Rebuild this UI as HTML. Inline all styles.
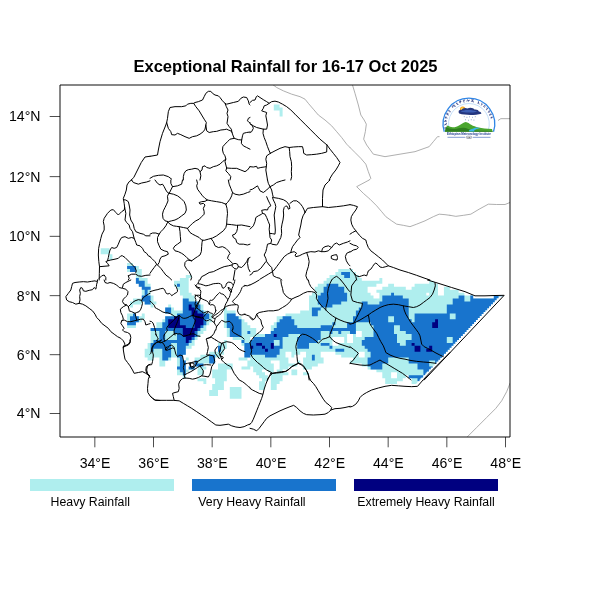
<!DOCTYPE html>
<html lang="en">
<head>
<meta charset="utf-8">
<title>Exceptional Rainfall for 16-17 Oct 2025</title>
<style>
html,body{margin:0;padding:0;background:#fff;}
body{width:600px;height:600px;overflow:hidden;font-family:"Liberation Sans",sans-serif;}
svg{display:block;}
text{font-family:"Liberation Sans",sans-serif;fill:#000;}
.ttl{font-weight:bold;font-size:16.55px;}
.tk{font-size:14.1px;}
.lg{font-size:12.3px;}
.bd{fill:none;stroke:#000;stroke-width:1;stroke-linejoin:round;stroke-linecap:round;}
.gr{fill:none;stroke:#9a9a9a;stroke-width:0.8;stroke-linejoin:round;stroke-linecap:round;}
.ax{fill:none;stroke:#000;stroke-width:0.95;stroke-linejoin:round;}
.tkl{fill:none;stroke:#000;stroke-width:0.7;}
</style>
</head>
<body>
<svg width="600" height="600" viewBox="0 0 600 600">
<rect width="600" height="600" fill="#fff"/>
<defs><clipPath id="fr"><rect x="60" y="85" width="450" height="352"/></clipPath>
<clipPath id="st"><path d="M0 0H600V296.3H498.5V298.3H496.6V300.3H494.7V302.2H492.9V304.2H491.0V306.2H489.1V308.2H487.2V310.2H485.3V312.1H483.5V314.1H481.6V316.1H479.7V318.1H477.8V320.1H475.9V322.0H474.1V324.0H472.2V326.0H470.3V328.0H468.4V330.0H466.5V331.9H464.7V333.9H462.8V335.9H460.9V337.9H459.0V339.9H457.1V341.8H455.3V343.8H453.4V345.8H451.5V347.8H449.6V349.8H447.7V351.7H445.9V353.7H444.0V355.7H442.1V357.7H440.2V359.7H438.3V361.6H436.5V363.6H434.6V365.6H432.7V367.6H430.8V369.6H428.9V371.5H427.1V373.5H425.2V375.5H423.3V377.5H421.4V379.5H419.5V381.4H417.7V383.4H415.8V385.4H413.9V387.4H412.0V600H0Z"/></clipPath></defs>
<g clip-path="url(#fr)">
<g clip-path="url(#st)">
<path fill="#afeeee" fill-rule="evenodd" d="M100.7 254.2H109.5V248.2H100.7ZM112.4 254.2H109.5V260.1H112.4ZM135.9 272.0V283.8H138.8V286.8H141.8V298.6H133.0V301.6H130.0V307.5H133.0V304.5H141.8V301.6H144.7V304.5H150.6V307.5H153.5V304.5H156.4V301.6H153.5V295.6H150.6V283.8H147.6V277.9H141.8V269.0H138.8V266.0H133.0V263.1H127.1V272.0ZM188.7 277.9H191.6V274.9H185.8V277.9H179.9V280.8H174.0V286.8H177.0V289.7H179.9V295.6H182.8V310.4H174.0V307.5H171.1V304.5H168.2V307.5H165.2V313.4H171.1V316.3H165.2V319.3H162.3V322.2H156.4V328.1H150.6V342.9H147.6V348.8H144.7V357.6H147.6V360.6H153.5V357.6H159.4V366.5H165.2V360.6H171.1V357.6H177.0V375.3H182.8V378.2H185.8V372.3H188.7V369.4H185.8V360.6H182.8V354.7H185.8V348.8H191.6V345.8H194.6V339.9H197.5V337.0H200.4V334.0H203.4V331.1H206.3V325.2H209.2V322.2H212.2V313.4H206.3V310.4H203.4V304.5H200.4V301.6H194.6V295.6H191.6V292.7H188.7ZM127.1 313.4V328.1H135.9V322.2H141.8V319.3H144.7V313.4H141.8V316.3H135.9V313.4ZM223.9 307.5V328.1H226.8V337.0H232.7V339.9H241.5V345.8H244.4V357.6H238.6V360.6H247.4V366.5H241.5V369.4H250.3V366.5H253.2V372.3H256.2V375.3H259.1V378.2H262.0V381.2H259.1V390.0H265.0V381.2H267.9V375.3H265.0V372.3H262.0V369.4H267.9V372.3H270.8V390.0H276.7V384.1H279.6V381.2H282.6V375.3H288.4V372.3H282.6V369.4H288.4V366.5H297.2V363.5H288.4V357.6H285.5V351.7H291.4V357.6H294.3V354.7H300.2V351.7H306.0V357.6H303.1V369.4H311.9V366.5H317.8V363.5H323.6V357.6H320.7V351.7H335.4V354.7H341.2V357.6H353.0V360.6H350.0V363.5H361.8V366.5H367.6V369.4H376.4V372.3H382.3V378.2H385.2V384.1H397.0V381.2H402.8V378.2H405.8V375.3H408.7V378.2H411.6V384.1H417.5V381.2H420.4V378.2H423.4V375.3H426.3V372.3H429.2V369.4H436.6V366.5H438.0V365.0H439.5V363.5H441.0V362.0H442.4V360.6H443.9V359.1H445.4V357.6H446.8V356.2H448.3V354.7H449.8V353.2H451.2V351.7H452.7V350.3H454.2V348.8H455.6V347.3H457.1V345.8H458.6V344.4H460.0V342.9H461.5V341.4H463.0V339.9H464.4V338.5H465.9V337.0H467.4V335.5H468.8V334.0H470.3V332.6H471.8V329.6H473.2V328.1H474.7V326.7H476.2V325.2H477.6V323.7H479.1V322.2H480.6V320.8H482.0V319.3H483.5V317.8H485.0V316.3H486.4V314.9H487.9V313.4H489.4V311.9H490.8V310.4H492.3V309.0H493.8V307.5H495.2V306.0H496.7V304.5H498.2V303.0H499.6V301.6H501.1V300.1H502.6V295.6H493.8V298.6H473.2V295.6H464.4V292.7H458.6V289.7H449.8V286.8H443.9V295.6H438.0V283.8H435.1V282.3H433.6V280.8H429.2V283.8H414.6V286.8H411.6V289.7H405.8V286.8H394.0V283.8H388.2V286.8H382.3V289.7H376.4V292.7H379.4V298.6H373.5V295.6H370.6V292.7H367.6V286.8H376.4V283.8H382.3V277.9H379.4V280.8H361.8V277.9H358.8V274.9H355.9V272.0H353.0V269.0H338.3V272.0H335.4V274.9H329.5V277.9H326.6V280.8H323.6V283.8H317.8V286.8H314.8V292.7H311.9V295.6H309.0V310.4H300.2V313.4H285.5V316.3H276.7V322.2H273.8V325.2H270.8V334.0H256.2V328.1H250.3V325.2H247.4V322.2H244.4V319.3H241.5V316.3H235.6V310.4H226.8V307.5ZM247.4 357.6H250.3V360.6H247.4ZM332.4 337.0H344.2V342.9H338.3V345.8H332.4ZM347.1 334.0H353.0V342.9H347.1ZM355.9 331.1H361.8V337.0H355.9ZM253.2 339.9H250.3V337.0H253.2ZM279.6 360.6V369.4H276.7V372.3H273.8V363.5H270.8V360.6ZM358.8 351.7H364.7V357.6H358.8ZM397.0 372.3V378.2H391.1V372.3ZM429.2 292.7V295.6H426.3V292.7ZM218.0 351.7H209.2V354.7H200.4V357.6H194.6V366.5H197.5V375.3H203.4V369.4H206.3V366.5H203.4V363.5H215.1V357.6H221.0V354.7H223.9V348.8H226.8V339.9H223.9V342.9H218.0ZM188.7 357.6H185.8V360.6H188.7ZM212.2 378.2H215.1V384.1H212.2V390.0H209.2V395.9H218.0V390.0H223.9V381.2H226.8V369.4H232.7V363.5H218.0V369.4H212.2ZM194.6 366.5H188.7V369.4H194.6ZM206.3 378.2H197.5V381.2H203.4V384.1H206.3ZM241.5 387.1H229.8V398.8H241.5ZM282.6 107.4H279.6V104.4H273.8V110.5H279.6V116.5H282.6ZM300.2 363.5V360.6H297.2V363.5ZM297.2 375.3V369.4H291.4V375.3ZM309.0 372.3H303.1V375.3H309.0Z"/>
<path fill="#1874cd" fill-rule="evenodd" d="M135.9 266.0H127.1V269.0H130.0V272.0H135.9ZM141.8 286.8V289.7H144.7V295.6H141.8V301.6H144.7V304.5H150.6V295.6H147.6V289.7H150.6V286.8H144.7V280.8H138.8V277.9H135.9V283.8H138.8V286.8ZM179.9 283.8H177.0V286.8H179.9ZM171.1 313.4V307.5H165.2V313.4ZM135.9 325.2V322.2H138.8V316.3H135.9V313.4H133.0V316.3H130.0V322.2H127.1V325.2ZM162.3 328.1H150.6V331.1H159.4V339.9H153.5V342.9H150.6V351.7H153.5V348.8H162.3V360.6H168.2V357.6H171.1V342.9H177.0V357.6H179.9V366.5H177.0V369.4H179.9V372.3H182.8V375.3H185.8V360.6H182.8V354.7H185.8V345.8H188.7V342.9H191.6V339.9H194.6V337.0H197.5V331.1H200.4V328.1H203.4V325.2H206.3V319.3H209.2V313.4H203.4V310.4H200.4V304.5H197.5V301.6H188.7V298.6H182.8V313.4H177.0V316.3H165.2V322.2H162.3ZM165.2 339.9V331.1H174.0V334.0H177.0V339.9ZM226.8 328.1H229.8V337.0H241.5V319.3H238.6V316.3H235.6V313.4H226.8ZM282.6 316.3V319.3H279.6V322.2H276.7V328.1H273.8V331.1H270.8V334.0H265.0V337.0H253.2V339.9H250.3V342.9H244.4V357.6H250.3V354.7H265.0V357.6H276.7V354.7H279.6V348.8H282.6V337.0H288.4V334.0H300.2V337.0H297.2V348.8H309.0V342.9H317.8V339.9H320.7V331.1H329.5V334.0H332.4V331.1H338.3V334.0H341.2V331.1H350.0V334.0H355.9V322.2H370.6V325.2H373.5V337.0H364.7V339.9H361.8V345.8H364.7V348.8H367.6V351.7H370.6V357.6H367.6V366.5H370.6V369.4H382.3V363.5H388.2V357.6H408.7V363.5H417.5V369.4H423.4V375.3H426.3V372.3H429.2V369.4H436.6V366.5H438.0V365.0H439.5V363.5H441.0V362.0H442.4V360.6H443.9V359.1H445.4V357.6H446.8V356.2H448.3V354.7H449.8V353.2H451.2V351.7H452.7V350.3H454.2V348.8H455.6V347.3H457.1V345.8H458.6V344.4H460.0V342.9H461.5V341.4H463.0V339.9H464.4V338.5H465.9V337.0H467.4V335.5H468.8V334.0H470.3V332.6H471.8V329.6H473.2V328.1H474.7V326.7H476.2V325.2H477.6V323.7H479.1V322.2H480.6V320.8H482.0V319.3H483.5V317.8H485.0V316.3H486.4V314.9H487.9V313.4H489.4V311.9H490.8V310.4H492.3V309.0H493.8V307.5H495.2V306.0H496.7V304.5H498.2V303.0H499.6V301.6H501.1V300.1H502.6V295.6H493.8V298.6H473.2V295.6H470.3V301.6H464.4V295.6H458.6V298.6H452.7V304.5H446.8V313.4H414.6V322.2H411.6V319.3H408.7V298.6H402.8V295.6H394.0V292.7H391.1V295.6H382.3V301.6H379.4V304.5H367.6V301.6H361.8V307.5H358.8V310.4H355.9V316.3H353.0V322.2H347.1V328.1H332.4V325.2H320.7V328.1H297.2V325.2H294.3V319.3H291.4V316.3ZM273.8 339.9H279.6V345.8H273.8ZM388.2 316.3H394.0V322.2H388.2ZM446.8 337.0H452.7V342.9H446.8ZM405.8 339.9V345.8H399.9V342.9H397.0V334.0H394.0V325.2H399.9V331.1H405.8V334.0H411.6V339.9ZM455.6 313.4V319.3H449.8V313.4ZM429.2 360.6H435.1V366.5H429.2ZM250.3 334.0V331.1H247.4V334.0ZM244.4 339.9H241.5V342.9H244.4ZM221.0 351.7V345.8H218.0V351.7ZM215.1 363.5V354.7H209.2V363.5ZM197.5 363.5V360.6H194.6V366.5H203.4V363.5ZM194.6 366.5H188.7V369.4H194.6ZM350.0 272.0H341.2V274.9H344.2V277.9H350.0ZM320.7 292.7V295.6H317.8V304.5H320.7V307.5H332.4V304.5H341.2V301.6H347.1V292.7H344.2V286.8H338.3V283.8H326.6V286.8H323.6V292.7ZM317.8 316.3V310.4H320.7V307.5H311.9V316.3ZM332.4 322.2V325.2H335.4V322.2ZM320.7 345.8H329.5V342.9H320.7ZM332.4 345.8H329.5V348.8H332.4ZM344.2 351.7V348.8H335.4V351.7ZM314.8 354.7H311.9V360.6H314.8ZM420.4 381.2V378.2H423.4V375.3H408.7V378.2H417.5V381.2Z"/>
<path fill="#000080" fill-rule="evenodd" d="M188.7 310.4H191.6V316.3H194.6V328.1H185.8V325.2H179.9V316.3H174.0V319.3H168.2V328.1H182.8V337.0H185.8V342.9H188.7V339.9H191.6V337.0H194.6V331.1H197.5V328.1H200.4V325.2H203.4V313.4H197.5V310.4H194.6V307.5H191.6V304.5H188.7ZM432.2 328.1H438.0V319.3H435.1V322.2H432.2ZM276.7 334.0H273.8V337.0H276.7ZM256.2 342.9V345.8H262.0V342.9ZM411.6 342.9V345.8H414.6V342.9ZM273.8 342.9H270.8V348.8H273.8ZM250.3 345.8V348.8H253.2V345.8ZM262.0 345.8V348.8H265.0V345.8ZM432.2 351.7V345.8H429.2V348.8H426.3V351.7ZM414.6 345.8V351.7H420.4V345.8ZM265.0 348.8V351.7H267.9V348.8Z"/>
</g>
<g class="gr">
<path d="M273.33 85 L276.67 87.5 L283.33 90.83 L291.67 94.17 L300 96.67 L305 99.17 L308.33 103.33 L313.33 109.17 L318.33 115 L325 120 L331.67 125.83 L336.67 131.67 L341.67 137.5 L346.67 144.17 L350 147.5"/>
<path d="M352.5 85 L355 93.33 L358.33 105 L360.83 115 L364.17 120 L366.33 124.17 L365.33 131.67 L363.67 139.17 L366.67 145 L373.33 154.17 L385 156.67 L400 154.17 L415 151.67 L429.17 146.67 L433.33 141.67 L437.5 136.67 L440 136.67"/>
<path d="M350 147.5 L355 152.5 L360.83 158.33 L365.83 164.17 L368.33 171.67 L370.83 178.33 L369.17 180"/>
<path d="M498.33 120.33 L500.83 118.67 L505 118.67 L510 118.67"/>
<path d="M369.17 180 L356.67 186.67 L363.33 193.33 L370 199.17 L376.67 205.83 L381.67 211.67 L385.83 216.67 L391.67 220.83 L396.67 224.17 L403.33 225.33 L410 226.67 L416.67 224.17 L425 220.83 L433.33 216.67 L439.17 214.17 L445 214.67 L450 215.33"/>
<path d="M450 215.33 L455.83 216.33 L463.33 215.33 L470.83 214.17 L479.17 209.17 L488.33 204.17 L496.67 204.5 L505 204.5 L510 202.5"/>
<path d="M510 383.33 L506.67 391.67 L501.67 400.83 L495.83 408.33 L486.67 417.5 L476.67 427.5 L467.5 436.67"/>
</g>
<g id="logo">
<rect x="439.5" y="94" width="58.5" height="46.5" fill="#fff"/>
<path d="M444.3 131.8A25.8 25.8 0 1 1 493.5 131.8" fill="none" stroke="#2f86e6" stroke-width="1.3"/>
<path d="M449.7 130.8A20.4 20.4 0 1 1 488.1 130.8" fill="none" stroke="#9cc8f3" stroke-width="0.6"/>
<path id="lgarc" d="M447.6 129.8A22.1 22.1 0 1 1 490.2 129.8" fill="none"/>
<text style="font-family:'Liberation Sans','Noto Sans Ethiopic','DejaVu Sans',sans-serif;font-size:3.6px;font-weight:bold;fill:#1b2a7a"><textPath href="#lgarc" startOffset="1.5" textLength="69" lengthAdjust="spacing">የኢትዮጵያ ሚቲዎሮሎጂ ኢንስቲትዩት</textPath></text>
<g transform="translate(1.7 -0.5)">
<circle cx="461" cy="109.6" r="2.7" fill="#f59a23"/>
<circle cx="460.6" cy="109.2" r="1.5" fill="#ffd84a"/>
<path d="M457 112.600c-.6-1.6 1.2-2.6 2.6-2.2 1.2-2 4.2-2.6 6.2-1.4 2.4-1.6 5.8-.8 7 1 2.2-.4 4 .6 4.4 2 1.6.2 2.6 1.2 2.4 2.2-3 .9-7 1.2-10.6 1.2-4.2 0-8.6-.4-11.4-1.4-.6-.4-.8-.9-.6-1.400z" fill="#24367f"/>
<path d="M459 112c2-1 5-1.6 8-1.4 3 0 6 .6 8.6 1.6-2.6.6-5.6.9-8.6.9-3 0-5.8-.3-8-1.100z" fill="#3d5fb5"/>
<g fill="#5a78b8"><rect x="462.2" y="116.5" width=".5" height="1.2"/><rect x="465" y="117.3" width=".5" height="1.2"/><rect x="467.8" y="116.7" width=".5" height="1.2"/><rect x="470.5" y="117.3" width=".5" height="1.2"/><rect x="473.2" y="116.5" width=".5" height="1.2"/><rect x="463.6" y="119.6" width=".5" height="1.2"/><rect x="466.4" y="120.2" width=".5" height="1.2"/><rect x="469.2" y="119.6" width=".5" height="1.2"/><rect x="472" y="120" width=".5" height="1.2"/></g>
</g>
<path d="M445 131.700c.4-3.2 1.4-5.5 2.6-6.3 1.6 1 3.2 1.6 5 1.8 2.4.2 4.2-.6 6.4-1.8 2.2-1.2 4.4-3 6.8-3.4 2 .3 3.6 1.6 5.4 2.8 2.2 1.4 4.6 2 7.2 2.6 3.6.8 8 1.2 13.6 1.600l.7 2.700z" fill="#4aa52e"/>
<path d="M445 131.700c.3-2 .8-3.4 1.6-4.4 2 1.4 5 1.8 8 1.6 3-.2 6-1.4 9-1.2 3 .2 5 1.6 8 2.2 4 .8 12 .8 21 1l.1.800z" fill="#2e7d1f"/>
<path d="M476.5 127.400c-2.6.8-5.2 1.4-7 2.6-1.2.8-.6 1.5 1 1.600l4.6-.1c-1.4-.5-1.2-1.1.2-1.8 1.4-.7 3.4-1.2 5.4-1.600z" fill="#39b5e8"/>
<text x="469" y="135" text-anchor="middle" style="font-family:'Liberation Sans',sans-serif;font-size:2.95px;font-weight:bold;fill:#1b3a8c">Ethiopian Meteorology Institute</text>
<path d="M447.5 137.300H465.200M472.8 137.300H490.5" stroke="#2d55b0" stroke-width=".6" fill="none"/>
<rect x="466.3" y="136.2" width="5.4" height="2.3" rx="1.1" fill="#fff" stroke="#44506e" stroke-width=".45"/>
<text x="469" y="138" text-anchor="middle" style="font-family:'Liberation Sans',sans-serif;font-size:1.6px;font-weight:bold;fill:#333">EMI</text>
</g>
<g class="bd">
<path d="M150 156.33 L157.5 155 L158.33 150 L160 141.67 L162.5 133.33 L165.83 125 L166.67 122.5 L167.5 118.33 L168.33 111.67 L170 107.5 L175 106.67 L181.67 106.67 L185.83 105.83 L187.5 104.17 L190.83 103.33 L193.67 103.33 L195 102.5 L198.33 101.67 L202.5 100 L204.17 96.67 L205.83 93.33 L208.33 91.33 L210.83 91.33 L212.5 93.33 L215 95 L218.33 95.83 L220 97.5 L222.5 100.83 L225 103.33 L226.67 104.17 L233.33 102.5 L238.33 101.33 L240.83 98.33 L243.33 97 L246.67 97.5 L248.33 100.83 L249.17 104.17 L250 105"/>
<path d="M166.67 122.5 L168.33 128.33 L170.83 131.67 L171.67 134.67 L175 135 L177.5 133.33 L180.83 134.67 L185 136.67 L189.17 138.33 L192.5 136.67 L196.67 135.83 L200 134.17 L203.33 131.67 L205 129.17 L205.83 125 L206.33 122.5 L204.17 119.17 L201.67 115 L199.17 110.83 L195.83 106.67 L193.67 103.33"/>
<path d="M205.83 125 L206.67 130.83 L209.17 132.5 L213.33 131.67 L216.67 131.33 L220.83 130 L224.17 129.67 L226.67 129.17 L228.33 130 L230.83 130.83 L232 132.5"/>
<path d="M225 103.33 L226.33 106.67 L228 110 L227 113.33 L228 116.67 L227.5 120 L227 123.33 L229.17 126.67 L231.33 129.17 L232 132.5 L232.83 135 L234.17 138.33 L238.33 139.67 L241.67 140 L242.5 135.83 L243.33 133.33 L246.67 132.5 L250 132"/>
<path d="M241.67 140 L241.33 143.33 L243.33 145.83 L246.67 147.5 L250 149.17"/>
<path d="M234.17 138.33 L230 139.17 L227.5 141.67 L225 144.17 L222.83 146.67 L222.5 150 L223.33 153.33 L225 155.83 L225.83 159.17 L225 161.67 L225.83 165 L226.67 168 L231.67 168.33 L236.67 168.33 L240.83 170 L245 171.67 L247.5 170 L250 166.67"/>
<path d="M225.83 159.17 L222.5 161.67 L220 164.17 L216.67 165.83 L213.33 166.67 L210 168.33 L206.67 167.5 L205 165.83 L202.5 166.67 L202 170 L200 171.67 L198.33 169.17 L195 168.33 L191.67 169.17 L188.33 169.67 L185.83 170.83 L184.17 173.33 L183.33 176.67 L183.33 180"/>
<path d="M200 171.67 L200.83 175.83 L200 180"/>
<path d="M226.67 168 L225.83 170.83 L228.33 173.33 L230.83 176.67 L230 180"/>
<path d="M150 178.33 L153.33 176.33 L158.33 175.33 L163.33 175 L168.33 176.67 L171.67 179.17"/>
<path d="M250 117.5 L248.33 118.33 L247.5 120.83 L249.17 122.5 L250 122.5"/>
<path d="M150 156.25 L145 157 L141.25 162.5 L137.5 170 L133.75 177.5 L131.25 180"/>
<path d="M131.67 180 L129.17 181.67 L127 185 L126.33 190 L125 194.17 L123.33 198.33 L124.17 203.33 L124.67 207.5 L124.17 210 L121.67 211.67 L120 213.33 L118.33 215 L115.83 212.5 L113.33 209.67 L110.83 210 L107.5 213.33 L104.17 218.33 L103.33 221.67 L104.17 225.83 L104.17 230 L102 234.17 L100.83 238.33 L99.67 243.33 L98.67 248.33 L98.33 255 L98.83 261.67 L99.5 266.67 L99.33 273.33 L99.17 280"/>
<path d="M123.33 199.67 L125.83 200 L128.33 201.67 L129.17 205 L130 210 L129.67 215 L130.83 220 L133.33 224.17 L134.17 228.33 L135.83 231.67 L140 233.33 L143.33 234.17 L145.83 235.83 L150 235.83"/>
<path d="M124.67 207.5 L125.83 213.33 L125 220 L126.67 222.5 L129.17 225 L130 228.33 L132.5 231.67 L133.33 235 L134.17 238.33 L135.83 242.5 L136.67 245 L140 245.83 L142.5 248.33 L144.17 251.67 L146.67 253.33 L148.33 255.83 L150 256.67"/>
<path d="M134.17 238.33 L131.67 237.5 L128.33 238.33 L125 236.67 L121.67 237.5 L120 240 L118.33 244.17 L116.67 247.5 L114.17 248.33 L111.67 247.5 L110 250 L109.17 253.33 L108.33 257.5 L107.5 260.83 L105.83 261.67 L107.5 263.33 L109.17 265.83 L99.5 266.67"/>
<path d="M107.5 260.83 L110.83 260 L115 259.17 L118.33 258.33 L120.83 255.83 L122.5 255.83 L125 257.5 L127.5 260 L130 262.5 L132.5 265 L135 267.5 L136.33 270.83 L135.83 272.5"/>
<path d="M128.33 275.83 L131.67 274.17 L135.83 274.17 L138.33 275.83 L141.67 276.33 L145.83 275.33 L150 275"/>
<path d="M128.33 275.83 L129.17 278.33 L128.33 280"/>
<path d="M99.17 278.33 L101.67 275.83 L104.17 275 L105.83 277.5 L105.83 280"/>
<path d="M131.67 180 L133.33 182.5 L138.33 184.17 L141.67 183 L146.67 182 L150 180.83"/>
<path d="M97.5 280 L96.67 281.67 L95 280.83 L91.67 281.33 L87.5 282 L83.33 281.67 L79.17 282 L75 282.5 L72.5 283.33 L71.67 286.67 L70.83 290 L68.33 293.33 L65.83 296.67 L66.67 300 L69.17 301.67 L72.5 302.5 L75.83 304.17 L79.17 303.33 L82.5 304.17 L85.83 305.83 L89.17 308.33 L92.5 310.83 L95 314.17 L96.67 317.5 L99.17 320 L101.67 323.33 L105 325.83 L108.33 328.33 L110.83 331.67 L114.17 334.17 L117.5 336.67 L120.83 338.33 L123.33 340.83 L125 344.17 L123.33 346.67 L123.33 350 L124.17 355 L125 359.17 L127.5 362.5 L130 365.83 L132.5 370 L134.17 373.33 L138.33 372.5 L142.5 371.67 L145.83 373.33 L148.33 375 L150 377.5"/>
<path d="M79.17 303.33 L80 300 L79.67 296.67 L80.33 293.33 L79.67 290 L80.83 287.5 L82.5 288.33 L83.33 290.83 L85.83 291.33 L89.17 290.33 L92.5 289.67 L94.17 287.5 L95.83 289.17 L96.33 286.67 L96.67 284.17 L97.5 281.67 L97.5 280"/>
<path d="M104.17 280 L105 282.5 L107.5 283.33 L110 282.5 L113.33 283.33 L116.67 285 L119.17 287.5 L122.5 288.33 L125.83 289.17 L128 291.67 L127.5 295 L125.83 296.67 L123.33 299.17 L122.5 301.67 L124.17 304.17 L126.67 305 L128.33 306.67 L129.17 310"/>
<path d="M122.5 287.5 L123.33 284.17 L125.83 282.5 L129.17 280.83 L130.83 280"/>
<path d="M128.33 306.67 L130 305 L132.5 302.5 L135 300.83 L138.33 299.67 L141.67 300.33 L142.5 303.33 L141.67 306.67 L140.83 309.17 L139.17 311.67 L136.67 312.5 L135 313.33 L131.67 311.67 L129.17 310.83"/>
<path d="M126.67 305 L123.33 306.67 L120.33 309.17 L120.83 312.5 L122.5 315.83 L123.33 319.17 L121.67 320.83 L120.83 323.33 L122.5 325.83 L124.17 328.33 L122.5 330 L124.17 331.67 L127.5 332.5 L130 334.17 L130.83 337.5 L130 341.67 L128.33 344.17 L125 345.83 L123.33 346.67"/>
<path d="M121.67 320.83 L124.17 320 L127.5 321.67 L130.83 321.67 L134.17 320.83 L137.5 320 L140.83 319.17 L143.33 319.17 L145 321.67 L145.83 325 L148.33 324.17 L150 323.67"/>
<path d="M135 313.33 L135.83 316.67 L136.67 320"/>
<path d="M141.67 300.33 L143.33 297.5 L145.83 295.83 L148.33 294.17 L150 293.33"/>
<path d="M150 364.17 L147.5 365.83 L146.67 370 L147.5 373.33 L148.33 375"/>
<path d="M155 180 L157.5 183.33 L160 185 L162.5 184.17 L164.17 186.67 L165.83 190 L167.5 192.5 L169.17 193.33"/>
<path d="M170.83 180 L170.83 183.33 L172.5 186.67 L170.83 190 L169.17 193.33"/>
<path d="M172.5 186.67 L177.5 185.83 L181.67 184.17 L182.5 180"/>
<path d="M169.17 193.33 L173.33 194.17 L177.5 195.83 L180.83 198.33 L184.17 201.67 L185.83 205.83 L186.33 210 L185 213.33 L181.67 215.83 L178.33 218.33 L175 220 L171.67 220.83 L168.33 221.67 L165 220.83 L163 218.33 L162.5 214.17 L163.33 210.83 L165 207.5 L166.67 204.17 L168 200.83 L167.5 196.67Z"/>
<path d="M167.5 221.67 L170 224.17 L173.33 225.83 L176.67 226.33 L179.17 226.67 L183.33 227.5 L187.5 228.33 L190 225.83 L192.5 223.33 L195.83 220.83 L199.17 219.17 L201.67 216.67 L204.17 214.17 L204.17 211.67 L203.33 208.33 L205 205 L203.33 203.33 L200 204.17 L199.17 202.5 L201.67 201.67 L205 201.33 L207.5 200"/>
<path d="M196.67 180 L197.5 183.33 L196.67 185.83 L197.5 189.17 L200 192.5 L202.5 195.83 L205 198.33 L207.5 200 L211.67 200.83 L216.67 201.67 L221.67 202.5 L225.83 204.17"/>
<path d="M228.33 180 L229.17 184.17 L230.83 188.33 L232.5 192.5 L231.67 195.83 L230 199.17 L227.5 202.5 L225.83 204.17"/>
<path d="M232.5 192.5 L235 194.17 L239.17 195 L243.33 194.17 L247.5 192.5 L250 191.67"/>
<path d="M225.83 204.17 L227 208.33 L227.5 213.33 L227 218.33 L226.67 224.17 L225.83 227.5 L223.33 230.83 L220 233.33 L216.67 235.83 L212.5 238 L208.33 239.17 L204.17 240.33 L201.67 240 L199.17 237.5 L195.83 235.83 L192.5 234.17 L190 232.5 L188.33 230 L187.5 228.33"/>
<path d="M226.67 224.17 L231.67 224.67 L236.67 225.33 L241.67 225 L245.83 225.83 L250 226.67"/>
<path d="M237.5 225.33 L237.5 228.33 L236.67 231.67 L235 234.17 L232.5 235 L233.33 237.5 L235.83 239.17 L236.67 242.5 L239.17 244.17 L243.33 244.17 L247.5 245 L250 244.17"/>
<path d="M179.17 226.67 L180 231.67 L180.33 236.67 L180.83 241.67 L177.5 244.17 L175 245.83 L173.33 248.33 L175 250.83 L178.33 251.67 L181.67 253.33 L184.17 255 L186.67 257.5 L189.17 259.67 L191.67 260.83 L195 258.33 L197.5 256.67 L200 255 L201.33 251.67 L201.67 246.67 L202 242.5 L202.5 240.33"/>
<path d="M210.83 238.33 L213.33 241.67 L215 245.83 L218.33 247.5 L222.5 246.67 L225.83 248.33 L228.33 250.83 L230 253.33 L228.33 255.83 L227.5 258.33 L230 260.83 L232.5 263.33"/>
<path d="M191.67 260.83 L187.5 260 L185 262.5 L184.67 265.83 L186.67 269.17 L189.17 271.67 L190.83 275 L191.67 277.5 L190.83 280"/>
<path d="M150 234.17 L152.5 233 L155.83 233 L159.17 234.17 L160.83 231.67 L163.33 229.17 L165.83 225.83 L167.5 222.5"/>
<path d="M159.17 234.17 L157.5 237.5 L157.5 241.67 L159.17 245.83 L160.83 249.17 L164.17 250.83 L167.5 251.67 L168.33 254.17 L165 255.83 L161.67 256.67 L160 259.17 L159.17 262.5 L157.5 265"/>
<path d="M150 256.67 L152.5 259.17 L155 261.67 L156.67 264.17 L154.17 267.5 L151.67 270.83 L150 273.33"/>
<path d="M157.5 265 L160.83 268.33 L163.33 271.67 L165.83 275 L169.17 277.5 L171.67 280"/>
<path d="M200 280 L201.67 276.67 L205 275 L209.17 272.5 L213.33 271.67 L216.67 270 L220 268.33 L224.17 266.67 L228.33 265.83 L231.67 265"/>
<path d="M232.5 264.17 L235 263.33 L237.5 264.17 L238.33 266.67 L236.67 269.17 L234.17 268.33 L232.5 266.67Z"/>
<path d="M238.33 266.67 L241.67 267.5 L244.17 265 L246.67 261.67 L248.33 258.33 L250 257.5"/>
<path d="M235 270 L234.17 275 L233.33 280"/>
<path d="M248.33 258.33 L247.5 263.33 L248.33 268.33 L250 271.67"/>
<path d="M250 102.5 L252.5 100.33 L255 100 L256.33 96.67 L257.5 95.83 L260 97.5 L263.33 99.67 L266.67 101.67 L269.17 103.33 L271.67 101.67 L275 101.17 L278.33 102 L282.5 104.17 L286.67 106.67 L290.83 110 L295 114.17 L300 119.17 L305 124.17 L310 129.17 L315 134.17 L320 139.17 L325 143.33 L327 145 L330 149.17 L333.33 153.33 L336.67 157.5 L340 162.5 L338.33 165.83 L335.83 170 L332.5 174.17 L330 178.33 L329.17 180"/>
<path d="M269.17 103.33 L266.67 105 L264.17 105.83 L263.33 108.33 L261.67 110.83 L264.17 111.67 L266.67 112.5 L265.83 115.83 L266.67 120 L267.5 125 L266.67 129.17 L263.33 129.17 L260 128.33 L256.67 127.5 L253.33 125.83 L250 123.67"/>
<path d="M250 123.67 L252.5 125.83 L253.33 128.33 L251.67 131.67 L250 132.5"/>
<path d="M263.33 129.17 L263 133.33 L264.17 137.5 L265.83 141.67 L267.5 146.67 L269.17 150.83 L270.33 153.33"/>
<path d="M270.33 153.33 L275 150.83 L280 148.33 L285 146.67 L289.17 147.5 L293.33 147 L298.33 146.67 L302.5 146.67 L303.33 150 L303.67 153.33 L306.67 155 L311.67 154.67 L316.67 154.17 L321.67 153.33 L326.67 152 L327 145"/>
<path d="M289.17 147.5 L289.67 151.67 L290 156.67 L291.33 161.67 L291.67 166.67 L291.33 171.67 L291.67 176.67 L290.83 180"/>
<path d="M270.33 153.33 L266.67 155.83 L265.83 159.17 L266.67 163.33 L266.33 166.67 L265.83 170 L266.67 175 L267.5 180"/>
<path d="M250 166.67 L253.33 167 L256.67 166.33 L257.5 168.33 L260.83 167.5 L264.17 167 L266.33 166.67"/>
<path d="M267.5 180 L268.33 183.33 L270 186.67 L266.67 190 L263.33 192.5 L260 190.83 L258.33 187.5 L257.5 185.83 L255 187.5 L252.5 189.17 L250 190"/>
<path d="M270 186.67 L273.33 185 L276.67 182.5 L281.67 180.83 L285 180"/>
<path d="M270 186.67 L271.67 190 L272.5 194.17 L273.33 197.5 L278.33 198.33 L283.33 199.67 L286.67 201.67 L289.17 205 L290 208.33 L288.33 209.17 L287.5 206.67 L285.83 205.83 L284.17 207.5 L283.33 210.83 L283.67 215 L283 220 L282 224.17 L281.33 228.33 L281.67 233.33 L280.83 237.5 L279.17 240.83 L277.5 244.17 L276.67 245 L271.67 244.17 L270.83 243.33"/>
<path d="M290 203.33 L293.33 200.83 L296.67 200.83 L300 203.33 L302.5 206.67 L304.17 210 L305 212.5"/>
<path d="M305 212.5 L307.5 208.33 L313.33 207.5 L322.5 206.67 L328.33 207.5 L336.67 206.67 L343.33 205.83 L350 204.67"/>
<path d="M322.5 206.67 L322.5 198.33 L323 190 L325 185 L328.33 181.67 L330 180"/>
<path d="M305 212.5 L303 215.83 L301.67 220 L300.83 225 L299.67 230 L298.67 235 L300 237.5 L297.5 240 L295 243.33 L292.5 246.67 L291.33 250 L290.83 252.5"/>
<path d="M290.83 252.5 L287.5 254.17 L284.17 256.67 L281.67 260 L279.17 263.33 L276.67 266.67 L274.17 270 L272.5 271.67 L268.33 274.17 L264.17 276.67 L260 279.17"/>
<path d="M290.83 252.5 L294.17 251.67 L296.67 253.33 L295 255 L295.83 256.67 L299.17 255.83 L302.5 254.17 L306.67 252.5 L310.83 251.67 L315 252 L318.33 250.83 L321.67 251.67 L322.5 248.33 L325 246.67 L328.33 245.83 L331.67 247.5 L334.17 244.17 L336.67 243 L339.17 245 L343.33 243.33 L347.5 242 L350 240.83"/>
<path d="M321.67 251.67 L325 251.67 L328.33 250.83 L331.67 247.5"/>
<path d="M306.67 252.5 L308.33 257.5 L309.17 261.67 L308.33 266.67 L306.67 271.67 L305.83 275.83 L307.5 280"/>
<path d="M331.67 255.83 L334.17 255 L336.67 254.67 L337.5 257.5 L337 260 L334.17 259.67 L331.67 258.67Z"/>
<path d="M350 251.67 L346.67 253.33 L345.33 256.67 L346.33 260.83 L348.33 264.17 L350 265.83"/>
<path d="M266.67 196.67 L268 200 L269.67 203.33 L270.83 205.83 L268.33 207.5 L267.5 210 L265 209.67 L261.67 210.33 L262.5 213.33 L265 214.17 L266.67 217.5 L268.33 221.67 L269.67 225 L269.17 229.17 L269.67 233.33 L272.5 233.67 L275 234.17 L275.33 230 L275 225 L274.67 220 L274.17 215 L275 210.83 L275.83 206.67 L275 203.33 L273.33 200 L272.5 197.5"/>
<path d="M250 229.17 L253.33 225.83 L255 221.67 L255.83 217.5 L258.33 215.83 L261.67 214.17 L262.5 213.33"/>
<path d="M269.67 233.33 L270 237.5 L271.67 240 L270.83 243.33 L267.5 244.17 L266.67 248.33 L265.83 251.67 L264.17 255 L265.83 258.33 L266.67 261.67 L269.17 265 L271.67 267.5 L272.5 271.67"/>
<path d="M265.83 261.67 L263.33 265 L260.83 268.33 L257.5 270.83 L253.33 271.67 L251.67 274.17 L250 275"/>
<path d="M272.5 271.67 L273.33 275.83 L276.67 277.5 L280 278.33 L281.67 280"/>
<path d="M350 204.67 L353.33 205.33 L357.5 206.67 L355.83 210 L353.33 213.33 L351.33 216.67 L350.83 220 L351.67 224.17 L353.33 227.5 L355.83 230.83 L359.17 235 L362.5 238.33 L365.83 240 L366.67 243.33 L368.33 247.5 L370.83 250.83 L374.17 253.33 L378.33 256.67 L382.5 260 L386.67 264.17 L388.33 265.83 L393.33 267.5 L400 270 L408.33 272.5 L416.67 275.33 L425 278.33 L430 280"/>
<path d="M355.83 230.83 L352.5 232.5 L350 234.17"/>
<path d="M350 243.33 L353.33 245 L356.67 245.83 L358.33 247.5 L356.67 249.17 L353.33 250 L350.83 251.67 L350 252"/>
<path d="M388.33 265.83 L385.83 266.67 L382.5 267.5 L380 267 L378.33 265 L375.83 263 L374.17 264.17 L372.5 266.67 L370.83 269.17 L368.33 270.83 L367.5 273.33 L366.67 275.83 L364.17 275 L361.67 275.83 L359.17 276.67 L356.67 275.83 L354.17 273.33 L351.67 270.83 L350 268.33"/>
<path d="M354.17 273.33 L355.83 276.67 L356.67 280"/>
<path d="M280.83 280 L281.33 284.17 L282.5 288.33 L283.33 292.5 L285.83 295.83 L289.17 298.33 L291.67 299.17 L295 297.5 L299.17 295.83 L303.33 293.33 L307.5 291.67 L311.67 291.67 L315 292.5 L316.67 295 L316.33 298.33 L318.33 301.67 L320.83 305 L323.33 307.5 L325.83 310 L329.17 313.33 L332.5 315.83 L335.83 318 L340 320 L344.17 321.67 L350 323.33"/>
<path d="M308.33 280 L309.17 283.33 L310.83 286.67 L314.17 290 L316.67 292.5"/>
<path d="M291.67 299.17 L290 301.67 L286.67 305 L282.5 307.5 L278.33 310 L273.33 310.83 L268.33 310.83 L263.33 311.67 L259.17 312.5 L256.67 314.17 L258.33 317.5 L260.83 320 L261.67 324.17 L263.33 327.5 L261.67 330 L259.17 332.5 L256.67 334.17 L254.17 336.67 L251.67 340 L250 342.5"/>
<path d="M250 317.5 L252.5 320 L255 318.33 L256.67 314.17"/>
<path d="M250 285 L255 282.5 L259.17 280"/>
<path d="M331.67 280 L330 283.33 L328.33 288.33 L327.5 293.33 L328 298.33 L327 303.33 L325.83 307.5 L325.83 310"/>
<path d="M335.83 318 L335 321.67 L333.33 325.83 L331.67 330 L330 334.17 L329.67 336.67"/>
<path d="M329.67 336.67 L325.83 338.33 L322.5 339.17 L320 341.67 L318.33 343.33 L315.83 340.83 L312.5 338.33 L309.17 336.33 L305.83 334.67 L302.5 334.17 L300 335.83 L298.33 338.33 L296.67 342.5 L295.83 346.67 L296.67 351.67 L297 356.67 L297.5 361.67 L298.33 363.33"/>
<path d="M329.67 336.67 L332.5 340 L335.83 342.5 L340 344.17 L345 345.83 L350 347.5"/>
<path d="M298.33 363.33 L295 365 L291.67 366.67 L289.17 369.17 L285.83 371.33 L281.67 371.67 L276.67 372.5 L272.5 373.33 L270 375.83 L268 378.33 L267.5 380"/>
<path d="M298.33 363.33 L301.67 365 L304.17 367.5 L306.67 370.83 L308.33 375 L309.17 380"/>
<path d="M250 342.5 L250.83 346.67 L251.67 350.83 L250.83 354.17 L252.5 357.5 L255 360 L257.5 362.5 L260.83 365 L263.33 367.5 L266.67 370 L270 371.67 L272.5 373.33"/>
<path d="M340.83 280 L344.17 284.17 L348.33 290 L350 291.67"/>
<path d="M435 282.5 L435.33 285.83 L434.17 290 L432.5 294.17 L430 297.5 L426.67 300 L423.33 302.5 L420 305 L416.67 306.67 L413.33 307.5 L408.33 306.67 L403.33 305.83 L398.33 304.67 L393.33 304.17 L388.33 304.67 L384.17 305.83 L380 307.5 L375.83 310 L371.67 312.5 L368.33 315 L364.17 317.5 L360 320 L356.67 321.67 L353.33 323.33 L350 324.17"/>
<path d="M403.33 305.83 L404.17 310 L405.83 314.17 L408.33 318.33 L410.83 322.5 L413.33 325.83 L415.83 329.17 L418.33 332.5 L420 335.83 L420.83 340 L421.67 344.17 L424.17 346.67 L427.5 348.33 L430.83 350 L435 352.5 L439.17 354.67 L443.33 356.67"/>
<path d="M368.33 315 L369.17 319.17 L369.67 323.33 L371.67 326.67 L374.17 330 L376.67 333.33 L378.67 337.5 L380.83 341.67 L383.33 345.83 L385 350 L385.83 352.5 L390 355 L395 357 L400 358.33 L405 359.17 L410 360.33 L416.67 361.33 L423.33 362 L430 362.5 L435.83 363.33"/>
<path d="M355.83 280 L351.67 285.83 L350.83 295 L352.5 300.83 L357.5 302.5 L362.5 303.33 L361.67 307.5 L359.17 312.5 L356.67 317.5 L354.17 322.5 L353.33 323.33"/>
<path d="M350 346.67 L353.33 349.17 L356.67 351.67 L358.33 353.33 L355.83 356.67 L353.33 360 L350.83 362.5 L350 363.33"/>
<path d="M350 363.33 L355 364.17 L360 365 L365 365.33 L370 365 L373.33 363.33 L376.67 361.67 L380 360 L382.5 361.67 L385.83 363.33 L390 365.83 L394.17 368.33 L398.33 370.83 L402.5 373.33 L405.83 375.83 L409.17 378.33 L410.83 380"/>
<path d="M427.5 280 L435.83 282.5 L451.67 287.5 L465 291.67 L475 295.83 L485 295.83 L495 295.5 L504.17 295.33 L424.17 380"/>
<path d="M450 352.5 L443.33 359.17 L436.67 365.83 L430 372.5 L423.33 379.67 L417.5 386.33 L411.67 386.67 L405 386.33 L398.33 385.83 L391.67 385.33 L385 386.33 L378.33 388 L371.67 390 L366.67 392.5 L362.5 395 L360 397.5 L358.33 400.83 L355.83 404.17 L352.5 406.33 L350 407"/>
<path d="M150 395.83 L152.5 398.33 L155 400 L160 400.33 L166.67 400.33 L173.33 400.33 L179.17 400.83 L183.33 403.33 L187.5 405.83 L191.67 408.33 L196.67 411.67 L201.67 415 L206.67 418.33 L211.67 422 L215.83 425 L220 425.33 L225 424.67 L228.33 424.17 L231.67 425.83 L235.83 427 L240 427.5 L244.17 426.67 L247.5 425 L250 424.17"/>
<path d="M174.17 400.33 L173.33 396.67 L172.5 393.33 L175 392.5 L178.33 391.67 L179.17 388.33 L178.67 384.17 L180 380.83 L182.5 378.67 L185 378 L189.17 378.33 L192.5 379.17 L195 378.67 L198.33 377.5 L201.67 375.83 L205 376.33 L208.33 377 L210 374.17 L210.83 370.83 L211.67 366.67 L213.33 364.17 L214.67 361.67 L214.17 358.33 L213.33 355.83 L209.17 355 L205.83 356.67 L202.5 358.33 L200 360 L197.5 361.67 L195 361.67 L191.67 362.5 L187.5 363.33 L184.17 364.17"/>
<path d="M184.17 364.17 L183.33 367.5 L184.17 370.83 L184.17 375 L185 378"/>
<path d="M184.17 375 L187.5 373.33 L190.83 371.67 L194.17 369.67 L197.5 367.5 L200 365.83 L203.33 365 L206.67 364.67 L210.83 365"/>
<path d="M200 365.83 L201.67 368.33 L203.33 370.83 L203 374.17 L201.67 375.83"/>
<path d="M197.5 361.67 L195.83 365 L194.17 367.5 L191.67 368.33 L190 365.83 L190.83 363.33"/>
<path d="M184.17 364.17 L183.33 360 L182.5 355.83 L180 355 L177.5 356.67 L175.83 354.17 L175 350.83 L174.17 347.5 L171.67 345 L169.17 345.83 L167.5 348.33 L165.83 350 L165 346.67 L163.33 343.33 L160 341.67 L156.67 342.5 L153.33 345.83 L151.67 350 L150.83 353.33 L150 354.17"/>
<path d="M206.67 340 L207.5 344.17 L208.33 347.5 L207.5 351.67 L206.67 355 L209.17 355"/>
<path d="M215.83 340 L218.33 341.67 L221.67 343.33 L224.17 342.5 L226.67 341.67 L231.67 342.5 L234.17 344.17 L236.67 346.67 L239.17 349.17 L242.5 350.83 L245 351.67"/>
<path d="M221.67 343.33 L220.83 346.67 L220 350 L219.17 353.33 L220.83 356.67 L221.67 360 L224.17 362.5 L227.5 365 L230.83 366.67 L232.5 370 L234.17 373.33 L236.67 376.67 L239.17 380 L242.5 381.67 L245.83 384.17 L248.33 386.67 L250 387.5"/>
<path d="M250 428.33 L253.33 429.17 L256.67 430.83 L259.17 428.33 L261.67 425 L264.17 421.67 L266.67 418.33 L270 415.83 L275 413.33 L280 410.83 L285 408.67 L290 406.67 L293.67 405.33 L296.67 407.5 L300 410.83 L303.33 413.33 L306.67 414.67 L313.33 415 L320 414.67 L325 414.17 L328.33 412.5 L330.83 410 L335 408.67 L340 408.33 L345 407.5 L350 406.33"/>
<path d="M330.83 410 L331.67 407.5 L329.17 405 L325.83 402.5 L323.33 399.17 L320.83 395 L318.33 390.83 L315.83 386.67 L313.33 383.33 L310.83 380.83 L309.17 377.5 L308.33 374.17 L306.67 370.83 L304.17 366.67 L301.67 364.17 L298.33 363.33"/>
<path d="M298.33 363.33 L295 365 L291.67 366.67 L289.17 369.17 L285.83 371.33 L281.67 372.5 L276.67 373 L272.5 373.33 L270.83 373.33"/>
<path d="M270.83 373.33 L269.17 376.67 L267.5 380 L265.83 384.17 L264.17 389.17 L263 394.17 L261.67 398.33 L260 402.5 L258.33 406.67 L256.67 410.83 L255 415 L253.33 419.17 L251.67 422.5 L250 424.17"/>
<path d="M250 388.33 L252.5 390 L255.83 391.67 L259.17 393.33 L262.5 394.17"/>
<path d="M130 340 L130.33 342.5 L128.33 345 L125 346.33 L123 347.5"/>
<path d="M149.67 375.83 L146.67 373.33 L145.83 370 L146.33 366.67 L148.33 365 L151.67 364.67 L152.5 361.67 L153 358.33 L153.33 355 L152.5 351.67 L151.67 348.33 L153.33 345 L155.83 342.5 L158.33 341.67 L161.67 340"/>
<path d="M150 291.67 L152.08 291 L155 290.17 L157.92 289.58 L160.42 288.75 L162.92 288.33 L164.58 289.58 L165.42 291.67 L166.25 293.33 L167.92 294 L169.58 293.33 L170.83 294.58 L171.67 295.67 L173.33 294.58 L175 293.33 L176.67 292.5 L177.5 291.25 L177.33 289.58 L176.67 287.92 L175.83 286.25 L175 285"/>
<path d="M150 301.25 L151.67 302.5 L153.33 304.17 L154.58 305.83 L155 307.5 L156.67 308.5 L158.75 309.58 L160.83 310.83 L162.92 312.08 L165.42 312.67 L167.92 312.92 L170.42 313.75 L172.08 314.58 L173.75 315.83 L175.42 317.08 L176.67 317.33 L177.92 315.83 L179.17 315.42 L180.42 316.25 L181.67 317.67 L183.75 318.33 L185.83 318.17 L187.92 317.5 L189.58 316.5 L191.25 315.83 L192.92 315.42"/>
<path d="M192.92 315.42 L193.75 313.33 L194.58 311.25 L195.42 309.17 L196 307.08 L196.67 305 L197.92 302.92 L199.17 301.25 L200 300"/>
<path d="M195.42 295.83 L196.67 295.42 L198.33 295.17 L200 295.42"/>
<path d="M195.42 295.83 L195 297.5 L195.83 299.58 L195.67 301.67 L195 303.75 L195.42 305.83 L196 307.08"/>
<path d="M192.92 315.42 L195 316.25 L197.5 316.67 L200 317.08"/>
<path d="M176.67 317.33 L175 318.75 L173.33 320.42 L171.67 322.08 L170 323.75 L168.33 325.42 L167.08 327.08 L166.67 328.75 L167.5 330.42 L166.25 332.08 L165 333.75 L164.17 335"/>
<path d="M179.17 315.42 L178.75 317.5 L178.33 319.58 L177.5 321.67 L176.67 323.75 L175.83 325.83 L175 327.92 L174.17 330 L174 332.08 L174.58 333.75 L175 335"/>
<path d="M192.92 315.42 L193.33 317.5 L194.17 318.75 L195.42 320 L195 322.08 L194.17 324.17 L193.33 326.25 L192.5 328.33 L191.67 330.42 L190.83 332.5 L190 335"/>
<path d="M150 321.25 L151.67 321.67 L152.92 322.92 L153.75 325 L154.58 327.5 L155.17 330 L155.67 332.5 L156 335"/>
<path d="M195 285 L196.25 286.25 L197.92 287.33 L200 287.92"/>
<path d="M199.17 280 L198.75 281.67 L197.92 283.33 L196.67 284.58 L195.83 285.83 L196.67 287.5 L198.33 288.33 L200 289.58 L200.83 291.25 L200.67 293.33 L200.42 295.42 L200.67 297.5 L200 299.58 L199.17 301.67 L198.33 303.75 L197.5 305.83 L196.67 307.92"/>
<path d="M198.33 283.75 L200.83 284.17 L203.33 285 L205.83 285.83 L208.33 285.42 L210.83 284.58 L213.33 283.75 L215.83 283.5 L218.33 283.33 L220.42 283.75 L221.67 285 L222.08 287.08 L222.92 288.33 L224.58 287.5 L225.83 285.83 L226.25 284.17 L227.08 282.92 L228.75 282.08 L230.83 282.5 L232.5 283.75 L233.33 285 L234.17 283.33 L234.58 281.67 L234.83 280"/>
<path d="M233.33 285 L232.92 286.67 L232.08 288.33 L231.67 290 L231 291.67 L230.42 293.33 L230 295.42 L229.17 297.5 L227.92 299.58 L227.08 301.67 L225.83 303.75 L225 305.83 L224.58 307.5"/>
<path d="M228.33 287.5 L230 288.33 L231.25 290.42 L231.67 292.08 L230.42 291.67 L229.17 290 L228.33 288.33Z"/>
<path d="M227.92 299.58 L227.08 298.75 L225.83 297.08 L224.58 295.42 L222.92 294.17 L221.25 293.75 L219.58 292.5 L218.33 293.75 L217.08 295 L215.83 296.25 L214.58 297.92 L213.33 299.58 L211.67 300.42 L210.42 300 L209.58 301.25 L210 302.92 L209.17 304.17 L210.42 305 L212.08 304.58 L213.75 305 L215 306.67 L215.42 308.75 L215.83 310.42"/>
<path d="M200.42 297.92 L202.5 299.17 L204.58 300 L206.67 300.83 L208.33 302.5 L209.17 304.17"/>
<path d="M224.58 307.5 L226.67 306.25 L229.17 305.42 L231.67 305 L234.17 304.83 L236.67 304.58 L237.92 305 L238.33 306.67 L237.92 308.75 L237.5 310.83 L238.33 312.92 L239.58 314.58 L241.67 315 L243.75 314.58 L245 314.17"/>
<path d="M245 285.83 L243.33 286.25 L242.08 287.5 L241.25 289.58 L240.42 291.67 L239.17 293.75 L237.92 295.42 L236.67 297.08 L235 298.75 L233.75 300 L232.5 301.25 L233.33 302.5 L234.58 303.75 L235.83 304.58"/>
<path d="M224.58 307.5 L223.75 308.75 L222.5 309.58 L220.83 310.42 L219.58 311.67 L218.33 312.92 L217.08 313.75 L215.83 314.58 L214.58 315.42 L213.33 316.25 L212.5 317.5"/>
<path d="M224.58 308.33 L223.33 310.42 L222.08 312.08 L220.83 313.75 L219.58 315 L218.33 315.83 L217.08 316.67 L215.83 317.5 L215 318.75"/>
<path d="M215.83 310.42 L215.42 312.08 L214.58 313.33 L213.75 314.58 L212.5 315.83 L211.67 317.08 L212.92 317.92 L214.58 318.33 L215 319.17 L214.58 320.83 L214.17 322.5 L215 324.17 L215.83 325.42 L216.5 326.67 L216.25 328.33 L215.83 330"/>
<path d="M196.67 307.92 L198.33 309.17 L200 310.42 L201.67 311.67 L203.33 312.92 L205 312.5 L206.67 311.67 L207.92 311.25 L209.17 312.08 L210.42 312.92 L211.67 313.33 L212.92 314.17"/>
<path d="M195 316.67 L197.08 317.08 L199.17 317.5 L201.25 317.92 L202.92 317.5 L204.17 316.25 L205.42 314.58 L206.67 313.33 L207.92 312.5"/>
<path d="M202.92 317.5 L203.75 319.17 L205 320.42 L206.67 320.83 L208.33 320.42 L209.58 319.58 L210.83 320 L211.67 320.83 L212.92 321.67 L214.17 322.5"/>
<path d="M216.5 326.67 L217.92 325 L219.17 323.33 L220.42 321.67 L221.67 320.42 L222.92 320.83 L224.17 321.67 L225.83 322.08 L227.5 321.67 L229.17 321.25 L230.42 322.08 L231.67 323.33 L232.5 325 L233.17 326.67 L232.92 328.33 L232.5 330"/>
<path d="M195 295 L196.67 295.42 L197.92 296.25 L199.17 297.5 L200.42 297.92"/>
<path d="M147.5 374.17 L149.67 375.83 L148.33 379.17 L148 383.33 L147.5 388.33 L147.83 392.5 L150 395.83 L152.5 398.33 L155.33 400.33 L160 400.5"/>
<path d="M331.6 279.93 L333.33 278.33 L334.93 277.13 L336.67 276.33 L338.67 277.93 L340.8 279.93"/>
<path d="M244.08 314.1 L246.42 315.03 L249.33 316.08 L251.43 317.83 L253.07 319.23"/>
<path d="M244.67 285.4 L247.23 285.87 L249.92 284.82"/>
<path d="M233 328.92 L232.07 330.67 L233.23 332.42 L235.92 333.93 L238.83 335.57 L242.1 337.2 L244.08 339.07"/>
<path d="M155.83 334.17 L156.25 335 L157.5 337.5 L158.33 339.17 L156.67 340.42"/>
<path d="M156.67 340.42 L158.33 341.67 L160 342.92 L161.67 342.5 L163.33 341.67 L164.58 341.25 L166.67 340 L168.75 338.33 L170.83 336.67 L172.92 335 L174.17 333.75 L175.83 333.33 L177.92 334 L180 333.75 L182.08 335 L183.33 336.25 L185.83 335.67 L188.33 335 L190.83 334.17 L193.33 333.75 L195.42 334.58 L197.5 335.83 L200 336.25"/>
<path d="M164.17 335 L163.75 337.5 L164.17 339.58 L164.58 341.25"/>
<path d="M174.58 334.17 L174.17 333.75"/>
<path d="M167.08 346.67 L165.83 348.33 L165.42 350 L166.67 350.42 L168.75 349.58 L170.83 348.75 L172.5 347.92 L173.75 348.33"/>
<path d="M190 363.33 L191.67 362.92 L193.75 363.33 L194.17 365 L193.33 366.67 L191.25 366.25 L190 365Z"/>
<path d="M215.33 330 L214 333.33 L212 336 L208.67 338 L206.67 338.67 L206.27 339.6"/>
<path d="M206.67 338.67 L211.33 337.33 L214.67 339.33 L215.73 340"/>
<path d="M217.33 346.67 L214.93 350 L215.33 353.33 L217.33 356 L219.33 358.67"/>
<path d="M222.67 343.07 L224 346 L224.67 348.67 L222.67 351.33 L220.67 354 L220 356 L222.67 356.67 L223.33 358 L221.33 359.33"/>
</g>
</g>
<rect class="ax" x="60" y="85" width="450" height="352"/>
<path class="tkl" d="M94.83 437V447.3M153.50 437V447.3M212.16 437V447.3M270.83 437V447.3M329.50 437V447.3M388.17 437V447.3M446.83 437V447.3M505.50 437V447.3M49.7 116.50H60M49.7 176.64H60M49.7 236.33H60M49.7 295.65H60M49.7 354.68H60M49.7 413.50H60"/>
<text class="tk" x="95.0" y="467.6" text-anchor="middle">34°E</text>
<text class="tk" x="153.7" y="467.6" text-anchor="middle">36°E</text>
<text class="tk" x="212.4" y="467.6" text-anchor="middle">38°E</text>
<text class="tk" x="271.0" y="467.6" text-anchor="middle">40°E</text>
<text class="tk" x="329.7" y="467.6" text-anchor="middle">42°E</text>
<text class="tk" x="388.4" y="467.6" text-anchor="middle">44°E</text>
<text class="tk" x="447.0" y="467.6" text-anchor="middle">46°E</text>
<text class="tk" x="505.7" y="467.6" text-anchor="middle">48°E</text>
<text class="tk" x="40.5" y="121.4" text-anchor="end">14°N</text>
<text class="tk" x="40.5" y="181.5" text-anchor="end">12°N</text>
<text class="tk" x="40.5" y="241.2" text-anchor="end">10°N</text>
<text class="tk" x="40.5" y="300.5" text-anchor="end">8°N</text>
<text class="tk" x="40.5" y="359.6" text-anchor="end">6°N</text>
<text class="tk" x="40.5" y="418.4" text-anchor="end">4°N</text>
<text class="ttl" x="285.5" y="71.8" text-anchor="middle">Exceptional Rainfall for 16-17 Oct 2025</text>
<g shape-rendering="crispEdges">
<rect x="30" y="479" width="144" height="12" fill="#afeeee"/>
<rect x="192" y="479" width="144" height="12" fill="#1874cd"/>
<rect x="354" y="479" width="144" height="12" fill="#000080"/>
</g>
<text class="lg" x="50.6" y="506">Heavy Rainfall</text>
<text class="lg" x="198.3" y="506">Very Heavy Rainfall</text>
<text class="lg" x="357.3" y="506">Extremely Heavy Rainfall</text>
</svg>
</body>
</html>
